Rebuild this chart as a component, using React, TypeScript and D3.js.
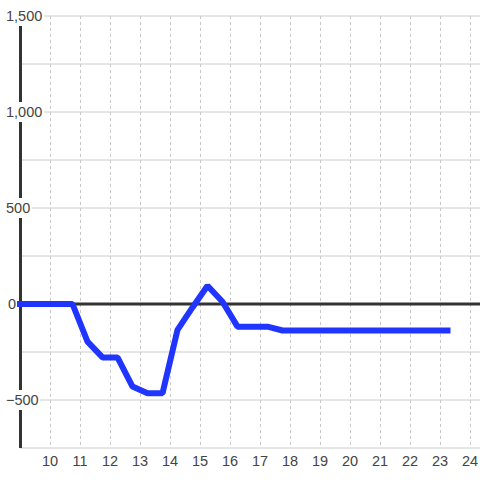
import React from "react";
import * as d3 from "d3";

const hours = [9, 9.25, 9.75, 10.25, 10.75, 11.25, 11.75, 12.25, 12.75, 13.25, 13.75, 14.25, 14.75, 15.25, 15.75, 16.25, 16.75, 17.25, 17.75, 18.25, 18.75, 19.25, 19.75, 20.25, 20.75, 21.25, 21.75, 22.25, 22.75, 23.25];
const values = [0, 0, 0, 0, 0, -196, -278, -278, -430, -465, -465, -135, -18, 95, 12, -118, -118, -118, -138, -138, -138, -138, -138, -138, -138, -138, -138, -138, -138, -138];
const xTicks = [10, 11, 12, 13, 14, 15, 16, 17, 18, 19, 20, 21, 22, 23, 24];
const yLabelTicks = [1500, 1000, 500, 0, -500];
const yGridTicks = [1500, 1250, 1000, 750, 500, 250, 0, -250, -500, -750];

const W = 480;
const H = 480;

export default function App() {
  const x = d3.scaleLinear().domain([9, 9 + 460 / 30]).range([20, 480]);
  const y = d3.scaleLinear().domain([-750, 1500]).range([448, 16]);
  const fmt = d3.format(",");
  const data = hours.map((h, i) => ({ h, v: values[i] }));
  const line = d3
    .line<{ h: number; v: number }>()
    .x((d) => x(d.h))
    .y((d) => y(d.v));
  const fontSize = 14.5;
  const charW = fontSize * 0.556;

  return (
    <svg
      width={W}
      height={H}
      style={{ position: "absolute", left: 0, top: 0, background: "#fff" }}
      fontFamily="'Liberation Sans', Arial, sans-serif"
    >
      {/* horizontal grid */}
      {yGridTicks.map((t) => (
        <line key={"hg" + t} x1={20} x2={480} y1={y(t)} y2={y(t)} stroke="#cccccc" strokeWidth={1} />
      ))}
      {/* vertical dotted grid */}
      {xTicks.map((t) => (
        <line
          key={"vg" + t}
          x1={x(t) + 0.5}
          x2={x(t) + 0.5}
          y1={y(1500)}
          y2={y(-750)}
          stroke="#c8c8c8"
          strokeWidth={1}
          strokeDasharray="3,3"
        />
      ))}
      {/* y axis line */}
      <line x1={x(9) + 0.5} x2={x(9) + 0.5} y1={y(1500)} y2={y(-750)} stroke="#333" strokeWidth={3} />
      {/* zero line */}
      <line x1={x(9)} x2={480} y1={y(0)} y2={y(0)} stroke="#333" strokeWidth={3} />
      {/* y labels with background */}
      {yLabelTicks.map((t) => {
        const label = fmt(t);
        let w = 0;
        for (const c of label) w += c === "," ? fontSize * 0.278 : c === "-" ? fontSize * 0.333 : charW;
        let start: number;
        if (t === 0) start = 16 - w;
        else start = Math.max(6, 30 - w);
        const cy = y(t);
        return (
          <g key={"yl" + t}>
            <rect x={start - 2} y={cy - 10} width={w + 4} height={20} fill="#fff" />
            <text x={start} y={cy} dy="0.36em" fontSize={fontSize} fill="#444">
              {label}
            </text>
          </g>
        );
      })}
      {/* x labels */}
      {xTicks.map((t) => (
        <text key={"xl" + t} x={x(t)} y={466} textAnchor="middle" fontSize={fontSize} fill="#444">
          {t}
        </text>
      ))}
      {/* data line */}
      <path
        d={line(data) || ""}
        fill="none"
        stroke="#2035ff"
        strokeWidth={6}
        strokeLinejoin="bevel"
        strokeLinecap="square"
      />
    </svg>
  );
}
